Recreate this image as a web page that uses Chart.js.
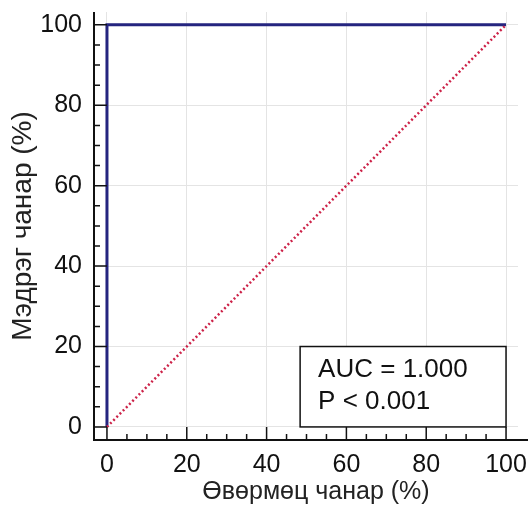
<!DOCTYPE html>
<html>
<head>
<meta charset="utf-8">
<script src="https://cdn.jsdelivr.net/npm/chart.js@4"></script>
<style>
  html, body { margin: 0; padding: 0; background: #fff; }
  #wrap { width: 531px; height: 508px; }
</style>
</head>
<body>
<div id="wrap"><canvas id="myCanvas"></canvas></div>
<script>
// ROC curve points
const rocX = [0, 0, 100]
const rocY = [0, 100, 100]
// reference diagonal
const refX = [0, 100]
const refY = [0, 100]
const tickValues = [0, 5, 10, 15, 20, 25, 30, 35, 40, 45, 50, 55, 60, 65, 70, 75, 80, 85, 90, 95, 100]
const statsLines = ["AUC = 1.000", "P < 0.001"]
const xTitle = "Өвөрмөц чанар (%)"
const yTitle = "Мэдрэг чанар (%)"

const FONT = "'Liberation Sans', Arial, sans-serif"

const toPoints = (xs, ys) => xs.map((x, i) => ({ x: x, y: ys[i] }))

const axisPlugin = {
  id: "axisPlugin",
  afterDraw(chart) {
    const ctx = chart.ctx
    const xs = chart.scales.x
    const ys = chart.scales.y
    const area = chart.chartArea
    ctx.save()
    ctx.strokeStyle = "#111"
    ctx.lineWidth = 2
    ctx.beginPath()
    ctx.moveTo(area.left, area.top)
    ctx.lineTo(area.left, area.bottom)
    ctx.lineTo(area.right + 10, area.bottom)
    ctx.stroke()
    ctx.lineWidth = 1.5
    tickValues.forEach((v) => {
      const len = v % 20 === 0 ? 13 : 6
      const px = xs.getPixelForValue(v)
      const py = ys.getPixelForValue(v)
      ctx.beginPath()
      ctx.moveTo(px, area.bottom)
      ctx.lineTo(px, area.bottom - len)
      ctx.moveTo(area.left, py)
      ctx.lineTo(area.left + len, py)
      ctx.stroke()
    })

    // stats box
    const bx0 = xs.getPixelForValue(48.4)
    const bx1 = xs.getPixelForValue(100)
    const by0 = ys.getPixelForValue(20)
    const by1 = ys.getPixelForValue(0)
    ctx.fillStyle = "#fff"
    ctx.fillRect(bx0, by0, bx1 - bx0, by1 - by0)
    ctx.lineWidth = 1.5
    ctx.strokeStyle = "#111"
    ctx.strokeRect(bx0, by0, bx1 - bx0, by1 - by0)
    ctx.fillStyle = "#111"
    ctx.font = "26px " + FONT
    ctx.textBaseline = "middle"
    ctx.textAlign = "left"
    statsLines.forEach((t, i) => {
      ctx.fillText(t, bx0 + 18, by0 + 23 + i * 32)
    })

    // x axis title, drawn a bit right of centre like the original
    ctx.fillStyle = "#222"
    ctx.font = "25px " + FONT
    ctx.textAlign = "center"
    ctx.fillText(xTitle, 316, 492)
    ctx.restore()
  },
}

const ctx = document.getElementById("myCanvas").getContext("2d")

new Chart(ctx, {
  type: "scatter",
  data: {
    datasets: [
      {
        label: "Reference",
        data: toPoints(refX, refY),
        showLine: true,
        borderColor: "#cc2248",
        borderWidth: 2.5,
        borderDash: [2, 2.5],
        pointRadius: 0,
        fill: false,
      },
      {
        label: "ROC",
        data: toPoints(rocX, rocY),
        showLine: true,
        borderColor: "#25257f",
        borderWidth: 3,
        pointRadius: 0,
        fill: false,
      },
    ],
  },
  options: {
    responsive: true,
    maintainAspectRatio: false,
    animation: false,
    layout: { padding: { left: 0, right: 13, top: 12, bottom: 0 } },
    plugins: { legend: { display: false }, tooltip: { enabled: false } },
    scales: {
      x: {
        type: "linear",
        min: -3.25,
        max: 103,
        afterBuildTicks: (s) => { s.ticks = tickValues.map((v) => ({ value: v })) },
        afterFit: (s) => {
          s.height = 68
          s.paddingLeft = 0
          s.paddingRight = 0
        },
        border: { display: false },
        grid: {
          drawTicks: false,
          lineWidth: 1,
          color: (c) => (c.tick && c.tick.value % 20 === 0 ? "#e4e4e4" : "rgba(0,0,0,0)"),
        },
        ticks: {
          autoSkip: false,
          maxRotation: 0,
          padding: 10,
          color: "#111",
          font: { family: FONT, size: 25 },
          callback: (v) => (v % 20 === 0 ? v : ""),
        },
        title: { display: false },
      },
      y: {
        type: "linear",
        min: -3.25,
        max: 103.2,
        afterBuildTicks: (s) => { s.ticks = tickValues.map((v) => ({ value: v })) },
        afterFit: (s) => {
          s.width = 94
          s.paddingTop = 0
          s.paddingBottom = 0
        },
        border: { display: false },
        grid: {
          drawTicks: false,
          lineWidth: 1,
          color: (c) => (c.tick && c.tick.value % 20 === 0 ? "#e4e4e4" : "rgba(0,0,0,0)"),
        },
        ticks: {
          autoSkip: false,
          padding: 12,
          color: "#111",
          font: { family: FONT, size: 25 },
          callback: (v) => (v % 20 === 0 ? v : ""),
        },
        title: {
          display: true,
          text: yTitle,
          color: "#222",
          font: { family: FONT, size: 28 },
          padding: { top: 6, bottom: 0 },
        },
      },
    },
  },
  plugins: [axisPlugin],
})
</script>
</body>
</html>
